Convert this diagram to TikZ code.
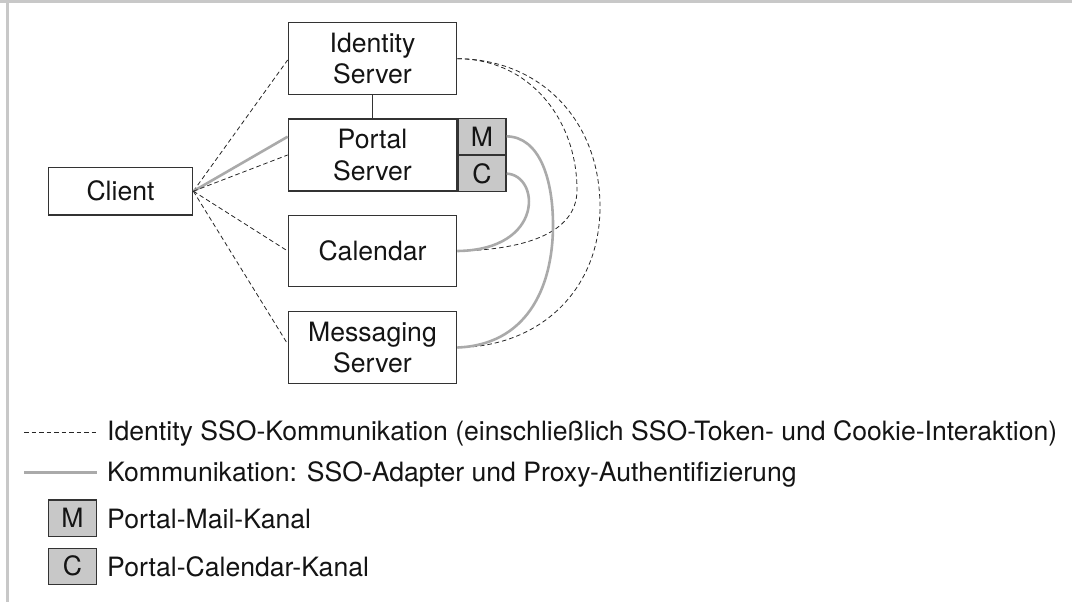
\documentclass[tikz,border=0pt]{standalone}
\usepackage{fontspec}
\setmainfont{TeX Gyre Heros}
\definecolor{boxline}{HTML}{333333}
\definecolor{chanfill}{HTML}{C8C8C8}
\definecolor{adapter}{HTML}{AAAAAA}
\definecolor{framegray}{HTML}{C8C8C8}
\definecolor{txt}{HTML}{141414}
\begin{document}
\begin{tikzpicture}[x=1pt,y=-1pt,
  box/.style={draw=boxline, line width=1.3pt, fill=white, inner sep=0pt,
    align=center, text=txt, font=\fontsize{26.6}{31.5}\selectfont},
  chan/.style={box, fill=chanfill, minimum width=48pt, minimum height=36pt},
  ssolink/.style={draw=black!85, line width=0.8pt, dash pattern=on 4.5pt off 3pt},
  adaptlink/.style={draw=adapter, line width=2.6pt},
  legtext/.style={anchor=base west, inner sep=0pt, text=txt, font=\fontsize{26.6}{31.5}\selectfont}]
\useasboundingbox (0,0) rectangle (1072,602);
\fill[white] (0,0) rectangle (1072,602);
% frame
\fill[framegray] (0,0) rectangle (1072,3.3);
\fill[framegray] (6,0) rectangle (8.7,602);

% nodes
\node[box, minimum width=144.4pt, minimum height=47.7pt] (client) at (120.5,191.2) {Client};
\node[box, minimum width=168.4pt, minimum height=72pt] (ident) at (372.5,58.7) {Identity\\Server};
\node[box, minimum width=168.4pt, minimum height=72pt] (portal) at (372.5,155) {Portal\\Server};
\node[chan, anchor=south west] (mch) at (portal.east) {M};
\node[chan, anchor=north west] (cch) at (portal.east) {C};
\node[box, minimum width=168.4pt, minimum height=71.5pt] (cal) at (372.5,251) {Calendar};
\node[box, minimum width=168.4pt, minimum height=71.5pt] (msg) at (372.5,347.5) {Messaging\\Server};

% identity - portal
\draw[draw=boxline, line width=1.2pt] (ident.south) -- (portal.north);

% client links
\draw[ssolink] (client.east) -- ([yshift=-1.3pt]ident.west);
\draw[adaptlink] (client.east) -- ([yshift=18.3pt]portal.west);
\draw[ssolink] (client.east) -- (portal.west);
\draw[ssolink] (client.east) -- (cal.west);
\draw[ssolink] (client.east) -- ([yshift=3.5pt]msg.west);

% right side dashed curves
\draw[ssolink] (ident.east) .. controls (530,59) and (577,120) .. (577,190)
   .. controls (577,235) and (520,250) .. (cal.east);
\draw[ssolink] (ident.east) .. controls (540,59) and (600,120) .. (600,207)
   .. controls (600,290) and (540,347) .. (msg.east);

% adapter curves
\draw[adaptlink] (mch.east) .. controls (540,137) and (553,180) .. (553,225)
   .. controls (553,290) and (525,345) .. (msg.east);
\draw[adaptlink] (cch.east) .. controls (540,175) and (545,250) .. (cal.east);

% legend
\coordinate (l1a) at (24,432.3); \coordinate (l1b) at (97,432.3);
\coordinate (l2a) at (24,472.7); \coordinate (l2b) at (97,472.7);
\draw[ssolink] (l1a) -- (l1b);
\draw[adaptlink] (l2a) -- (l2b);
\node[legtext] (t1) at (107,440.5) {Identity SSO-Kommunikation (einschließlich SSO-Token- und Cookie-Interaktion)};
\node[legtext] (t2) at (107,481.5) {Kommunikation: SSO-Adapter und Proxy-Authentifizierung};
\node[chan, minimum height=36.7pt] (lm) at (72.5,518.3) {M};
\node[legtext] (t3) at (107,528.5) {Portal-Mail-Kanal};
\node[chan] (lc) at (72.5,566.3) {C};
\node[legtext] (t4) at (107,576) {Portal-Calendar-Kanal};
\end{tikzpicture}
\end{document}
